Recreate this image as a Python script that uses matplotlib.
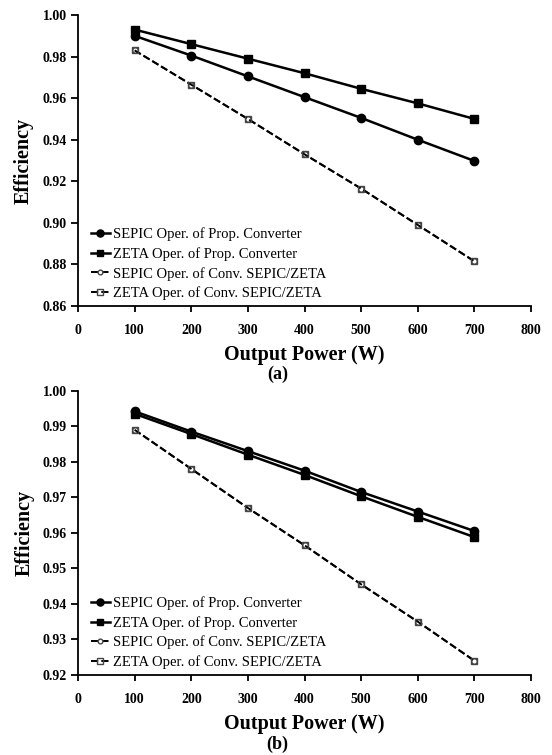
import matplotlib
matplotlib.use("Agg")
import matplotlib.pyplot as plt

power = [100, 200, 300, 400, 500, 600, 700]

a_sepic_prop = [0.9900, 0.9805, 0.9705, 0.9605, 0.9505, 0.9400, 0.9298]
a_zeta_prop = [0.9930, 0.9860, 0.9790, 0.9720, 0.9645, 0.9575, 0.9500]
a_sepic_conv = [0.9830, 0.9665, 0.9500, 0.9330, 0.9165, 0.8990, 0.8815]
a_zeta_conv = [0.9830, 0.9665, 0.9500, 0.9330, 0.9165, 0.8990, 0.8815]

b_sepic_prop = [0.9942, 0.9885, 0.9830, 0.9775, 0.9715, 0.9660, 0.9605]
b_zeta_prop = [0.9935, 0.9878, 0.9820, 0.9763, 0.9703, 0.9645, 0.9588]
b_sepic_conv = [0.9890, 0.9780, 0.9670, 0.9565, 0.9455, 0.9350, 0.9240]
b_zeta_conv = [0.9890, 0.9780, 0.9670, 0.9565, 0.9455, 0.9350, 0.9240]

labels = ["SEPIC Oper. of Prop. Converter",
          "ZETA Oper. of Prop. Converter",
          "SEPIC Oper. of Conv. SEPIC/ZETA",
          "ZETA Oper. of Conv. SEPIC/ZETA"]

a_yticks = [0.86, 0.88, 0.90, 0.92, 0.94, 0.96, 0.98, 1.00]
b_yticks = [0.92, 0.93, 0.94, 0.95, 0.96, 0.97, 0.98, 0.99, 1.00]
xticks = [0, 100, 200, 300, 400, 500, 600, 700, 800]

plt.rcParams['font.family'] = ['Liberation Serif', 'DejaVu Serif']

fig = plt.figure(figsize=(5.52, 7.55), dpi=100)
axa = fig.add_axes([0.1413, 0.5947, 0.8207, 0.3854])
axb = fig.add_axes([0.1413, 0.1060, 0.8207, 0.3765])


def draw(ax, s1, s2, s3, s4, yticks, ylim, fmt, sub, sublabel_y):
    ax.plot(power, s1, '-', color='black', lw=1.8, marker='o', ms=6,
            mfc='black', mec='black', label=labels[0])
    ax.plot(power, s2, '-', color='black', lw=1.8, marker='s', ms=5.8,
            mfc='black', mec='black', label=labels[1])
    ax.plot(power, s3, '--', color='black', lw=1.4, marker='o', ms=4.0,
            mfc='white', mec='#444444', mew=1.0, label=labels[2])
    ax.plot(power, s4, '--', color='black', lw=1.4, marker='s', ms=5.0,
            mfc='none', mec='#444444', mew=1.0, label=labels[3])
    ax.set_xlim(0, 800)
    ax.set_ylim(*ylim)
    ax.set_xticks(xticks)
    ax.set_yticks(yticks)
    ax.set_yticklabels([fmt.format(v) for v in yticks])
    ax.spines['top'].set_visible(False)
    ax.spines['right'].set_visible(False)
    ax.spines['left'].set_linewidth(1.3)
    ax.spines['bottom'].set_linewidth(1.3)
    ax.tick_params(axis='x', direction='out', length=4, width=1.3, pad=9,
                   labelsize=10)
    ax.tick_params(axis='y', direction='out', length=5, width=1.3, pad=3,
                   labelsize=10)
    for t in ax.get_xticklabels() + ax.get_yticklabels():
        t.set_fontweight('bold')
    ax.set_xlabel("Output Power (W)", fontsize=14.5, fontweight='bold',
                  labelpad=6)
    ax.set_ylabel("Efficiency", fontsize=14.5, fontweight='bold', labelpad=6)
    ax.legend(loc='lower left', frameon=False, fontsize=10.5,
              handlelength=1.3, handletextpad=0.25, labelspacing=0.4,
              borderaxespad=0.1, bbox_to_anchor=(0.012, -0.005),
              markerscale=0.85)
    ax.text(0.44, sublabel_y, sub, transform=ax.transAxes, ha='center',
            va='center', fontsize=13, fontweight='bold')


draw(axa, a_sepic_prop, a_zeta_prop, a_sepic_conv, a_zeta_conv,
     a_yticks, (0.86, 1.00), "{:.2f}", "(a)", -0.235)
draw(axb, b_sepic_prop, b_zeta_prop, b_sepic_conv, b_zeta_conv,
     b_yticks, (0.92, 1.00), "{:.2f}", "(b)", -0.245)

fig.savefig("out.png", dpi=100)
